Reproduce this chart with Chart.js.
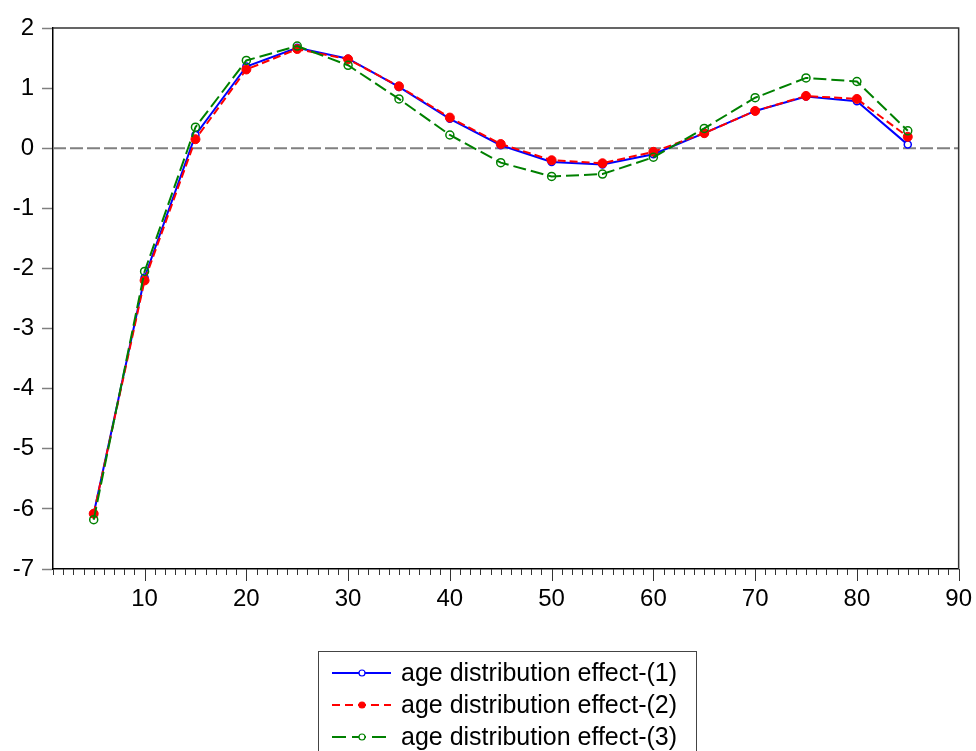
<!DOCTYPE html>
<html>
<head>
<meta charset="utf-8">
<script src="https://cdn.jsdelivr.net/npm/chart.js@4.4.0/dist/chart.umd.min.js"></script>
<style>
html,body{margin:0;padding:0;background:#fff;}
#wrap{width:976px;height:751px;position:relative;}
</style>
</head>
<body>
<div id="wrap"><canvas id="c" width="976" height="751"></canvas></div>
<script>
const ages = [5,10,15,20,25,30,35,40,45,50,55,60,65,70,75,80,85];
const effect1 = [-6.08,-2.15,0.22,1.36,1.67,1.49,1.02,0.49,0.05,-0.23,-0.27,-0.10,0.25,0.62,0.86,0.78,0.06];
const effect2 = [-6.08,-2.20,0.15,1.31,1.65,1.48,1.03,0.51,0.07,-0.20,-0.25,-0.06,0.25,0.62,0.87,0.82,0.19];
const effect3 = [-6.18,-2.05,0.35,1.46,1.70,1.38,0.82,0.22,-0.24,-0.47,-0.43,-0.15,0.33,0.84,1.17,1.11,0.29];
const seriesNames = ['age distribution effect-(1)','age distribution effect-(2)','age distribution effect-(3)'];
const xMin = 1, xMax = 90, yMin = -7, yMax = 2;

const FONT = 'Arimo, "Liberation Sans", Arial, sans-serif';
const pts = arr => arr.map((v,i)=>({x:ages[i], y:v}));

const styles = [
  {color:'#0000ff', dash:[], legDash:[], pr:3.5, fill:'#ffffff', order:3, bw:1.5},
  {color:'#ff0000', dash:[8,4], legDash:[8,5], pr:4.5, fill:'#ff0000', order:2, bw:1},
  {color:'#008000', dash:[13,5], legDash:[14,6], pr:4, fill:'rgba(0,0,0,0)', order:1, bw:1.5}
];
const data = [effect1, effect2, effect3];

const decor = {
  id:'decor',
  beforeDatasetsDraw(chart){
    const {ctx, chartArea:a, scales:{x,y}} = chart;
    const y0 = y.getPixelForValue(0);
    ctx.save();
    ctx.strokeStyle = '#808080';
    ctx.lineWidth = 2;
    ctx.setLineDash([13,4]);
    ctx.beginPath(); ctx.moveTo(a.left, y0); ctx.lineTo(a.right, y0); ctx.stroke();
    ctx.restore();
  },
  afterDraw(chart){
    const {ctx, chartArea:a, scales:{x,y}} = chart;
    ctx.save();
    ctx.strokeStyle = '#333';
    ctx.lineWidth = 1.5;
    ctx.beginPath();
    ctx.moveTo(a.left, a.top); ctx.lineTo(a.right, a.top); ctx.lineTo(a.right, a.bottom);
    ctx.stroke();
    ctx.strokeStyle = '#333';
    ctx.lineWidth = 1;
    for (const t of x.ticks) {
      const px = Math.round(x.getPixelForValue(t.value)) + 0.5;
      const len = (t.value % 10 === 0) ? 12 : 6;
      ctx.beginPath(); ctx.moveTo(px, a.bottom); ctx.lineTo(px, a.bottom + len); ctx.stroke();
    }
    // legend
    const lx = 318, ly = 651, lw = 378;
    ctx.strokeStyle = '#444';
    ctx.lineWidth = 1;
    ctx.strokeRect(lx + 0.5, ly + 0.5, lw, 120);
    ctx.font = '25px ' + FONT;
    ctx.textBaseline = 'middle';
    for (let i = 0; i < 3; i++) {
      const s = styles[i];
      const yy = 673 + i * 32;
      ctx.strokeStyle = s.color;
      ctx.lineWidth = 2;
      ctx.setLineDash(s.legDash);
      ctx.beginPath(); ctx.moveTo(332, yy); ctx.lineTo(391, yy); ctx.stroke();
      ctx.setLineDash([]);
      ctx.beginPath(); ctx.arc(362, yy, 3, 0, Math.PI*2);
      ctx.fillStyle = s.fill === 'rgba(0,0,0,0)' ? '#fff' : s.fill;
      ctx.fill();
      ctx.lineWidth = 1.2; ctx.stroke();
      ctx.fillStyle = '#000';
      ctx.fillText(seriesNames[i], 401, yy + 1);
    }
    ctx.restore();
  }
};

new Chart(document.getElementById('c'), {
  type:'line',
  data:{
    datasets: data.map((d,i)=>({
      label: seriesNames[i],
      data: pts(d),
      borderColor: styles[i].color,
      borderWidth: 2,
      borderDash: styles[i].dash,
      pointRadius: styles[i].pr,
      pointBackgroundColor: styles[i].fill,
      pointBorderColor: styles[i].color,
      pointBorderWidth: styles[i].bw,
      tension: 0,
      fill: false,
      order: styles[i].order
    }))
  },
  options:{
    responsive:false,
    animation:false,
    events:[],
    layout:{padding:{left:0, right:14, top:28, bottom:132}},
    plugins:{legend:{display:false}, tooltip:{enabled:false}},
    scales:{
      x:{
        type:'linear', min:xMin, max:xMax,
        afterFit(s){ s.height = 50; },
        afterBuildTicks(s){
          const t=[]; for(let v=xMin; v<=xMax; v++) t.push({value:v});
          s.ticks = t;
        },
        ticks:{
          autoSkip:false, maxRotation:0, padding:4,
          color:'#000', font:{family:FONT, size:24},
          callback:(v)=> (v % 10 === 0 ? String(v) : '')
        },
        grid:{drawOnChartArea:false, drawTicks:true, tickLength:12, tickColor:'rgba(0,0,0,0)'},
        border:{color:'#000', width:1.5}
      },
      y:{
        min:yMin, max:yMax,
        afterFit(s){ s.width = 53; },
        ticks:{stepSize:1, padding:8, color:'#000', font:{family:FONT, size:24}},
        grid:{drawOnChartArea:false, drawTicks:true, tickLength:11, tickColor:'#808080', tickWidth:1.5},
        border:{color:'#000', width:1.5}
      }
    }
  },
  plugins:[decor]
});
</script>
</body>
</html>
